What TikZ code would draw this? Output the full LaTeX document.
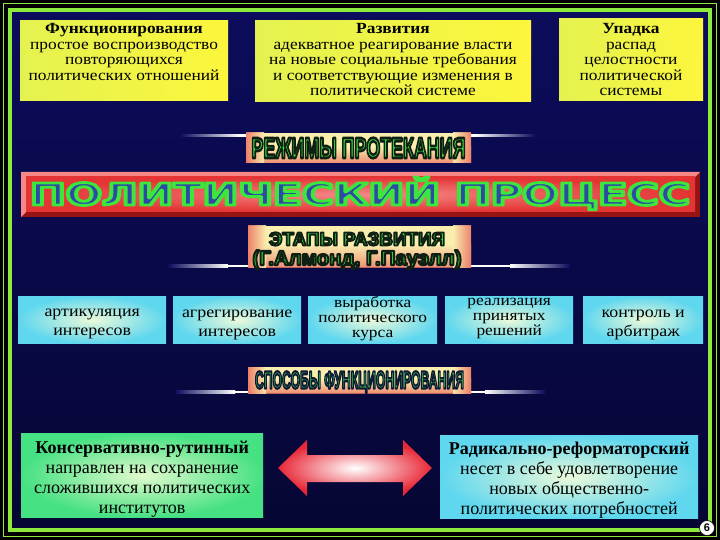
\documentclass[tikz,border=0pt]{standalone}
\usepackage{fontspec}
\setmainfont{Liberation Serif}
\newfontfamily\topfont[FakeStretch=1.12]{Liberation Serif}
\newfontfamily\banfont{Liberation Sans}
\newfontfamily\titlefont{DejaVu Sans}
\usetikzlibrary{shapes.geometric}
\definecolor{navy}{RGB}{12,12,92}
\definecolor{navydk}{RGB}{6,6,52}
\definecolor{lime}{RGB}{140,235,60}
\definecolor{yA}{RGB}{228,242,80}
\definecolor{yB}{RGB}{252,246,60}
\definecolor{cyIn}{RGB}{236,250,218}
\definecolor{cyOut}{RGB}{95,215,238}
\definecolor{grIn}{RGB}{225,250,205}
\definecolor{grOut}{RGB}{70,225,130}
\definecolor{bnIn}{RGB}{250,238,175}
\definecolor{bnOut}{RGB}{236,120,100}
\definecolor{rdFace}{RGB}{228,52,52}
\definecolor{rdLight}{RGB}{245,135,135}
\definecolor{rdDark}{RGB}{150,20,20}
\definecolor{bgreen}{RGB}{55,200,60}
\definecolor{tgreen}{RGB}{60,230,60}
\definecolor{tblue}{RGB}{45,75,165}
\definecolor{arRed}{RGB}{232,40,55}
\newcommand\fitcaps[4]{\resizebox{#1}{#2}{#3\vphantom{П}\smash{#4}}}
% text drawn filled and stroked (text render mode 2)
\newcommand\outl[4]{{\color{#1}\special{pdf:literal direct #2 RG #3 w 1 j 2 Tr}#4\special{pdf:literal direct 0 Tr}}}
\tikzset{
  ybox/.style={anchor=north west, inner sep=0pt, left color=yA, right color=yB},
  cbox/.style={anchor=north west, inner sep=0pt, inner color=cyIn, outer color=cyOut},
  gbox/.style={anchor=north west, inner sep=0pt, inner color=grIn, outer color=grOut},
  toptxt/.style={align=center, inner sep=0pt, font=\topfont\fontsize{15.5}{15.5}\selectfont},
  midtxt/.style={align=center, inner sep=0pt, font=\topfont\fontsize{16}{19}\selectfont},
  midtxtt/.style={align=center, inner sep=0pt, font=\topfont\fontsize{15.5}{14.8}\selectfont},
  bottxt/.style={align=center, inner sep=0pt, font=\fontsize{18}{20}\selectfont},
}
\newcommand\banner[5]{% name, x, y, w, h
  \fill[bnIn] (#2,#3) rectangle ++(#4,#5);
  \shade[top color=bnIn, bottom color=bnOut, opacity=0.8] (#2,#3+#5*0.45) rectangle ++(#4,#5*0.55);
  \shade[left color=bnOut, right color=bnIn, opacity=0.9] (#2,#3) rectangle ++(18,#5);
  \shade[left color=bnIn, right color=bnOut, opacity=0.9] (#2+#4-18,#3) rectangle ++(18,#5);
  \coordinate (#1) at (#2+#4/2,#3+#5/2);
}
\newcommand\glow[3]{% x1, x2, y
  \shade[left color=navy, right color=white] (#1,#3-1.2) rectangle (#1+60,#3+1.2);
  \fill[white] (#1+60,#3-1.2) rectangle (#2-60,#3+1.2);
  \shade[left color=white, right color=navy] (#2-60,#3-1.2) rectangle (#2,#3+1.2);
}
\begin{document}
\begin{tikzpicture}[x=1pt,y=-1pt]
\useasboundingbox (0,0) rectangle (720,540);
\fill[black] (0,0) rectangle (720,540);
\draw[lime, line width=1pt] (3.5,3.5) rectangle (716.5,536.5);
\shade[top color=navy, bottom color=navydk] (10,10) rectangle (710,530);
\draw[lime, line width=4.5pt] (10,10) rectangle (710,530);

% top boxes
\node[ybox, minimum width=208pt, minimum height=80pt] (f1) at (20,20) {};
\node[ybox, minimum width=276pt, minimum height=81pt] (f2) at (255,20) {};
\node[ybox, minimum width=144pt, minimum height=82pt] (f3) at (559,18) {};
\node[toptxt] (t1) at (124,52) {\textbf{Функционирования}\\простое воспроизводство\\повторяющихся\\политических отношений};
\node[toptxt] (t2) at (393,60) {\textbf{Развития}\\адекватное реагирование власти\\на новые социальные требования\\и соответствующие изменения в\\политической системе};
\node[toptxt] (t3) at (631,60) {\textbf{Упадка}\\распад\\целостности\\политической\\системы};

% glow lines
\glow{180}{535}{135.5}
\glow{168}{570}{266}
\glow{175}{545}{392}

% banner 1
\banner{b1}{246}{133}{225}{30}
\node (b1t) at (b1) {\fitcaps{214pt}{20pt}{\banfont\bfseries}{\outl{tgreen}{0.06 0.12 0.08}{0.9}{РЕЖИМЫ ПРОТЕКАНИЯ}}};

% main title
\fill[rdDark] (21,172) rectangle (700,217);
\fill[rdLight] (21,172) -- (700,172) -- (695,177) -- (26,177) -- (26,212) -- (21,217) -- cycle;
\shade[inner color=rdLight, outer color=rdFace] (26,177) rectangle (695,212);
\node (pp) at (360,194) {\fitcaps{660pt}{22pt}{\titlefont\bfseries}{\outl{tblue}{0.24 0.9 0.24}{0.95}{ПОЛИТИЧЕСКИЙ ПРОЦЕСС}}};

% banner 2
\banner{b2}{248}{226}{223}{41}
\node (b2a) at (357,239) {\fitcaps{176pt}{13pt}{\banfont\bfseries}{\outl{tgreen}{0.06 0.12 0.08}{1.0}{ЭТАПЫ РАЗВИТИЯ}}};
\node (b2b) at (357,258) {\fitcaps{209pt}{14pt}{\banfont\bfseries}{\outl{tgreen}{0.06 0.12 0.08}{1.0}{(Г.Алмонд, Г.Пауэлл)}}};

% middle boxes
\node[cbox, minimum width=148pt, minimum height=47pt] (m1) at (18,296) {};
\node[cbox, minimum width=128pt, minimum height=47pt] (m2) at (173,296) {};
\node[cbox, minimum width=129pt, minimum height=47pt] (m3) at (308,296) {};
\node[cbox, minimum width=128pt, minimum height=47pt] (m4) at (445,296) {};
\node[cbox, minimum width=120pt, minimum height=47pt] (m5) at (583,296) {};
\node[midtxt] at ([yshift=-4pt]m1.center) {артикуляция\\интересов};
\node[midtxt] at ([yshift=-5pt]m2.center) {агрегирование\\интересов};
\node[midtxtt] at ([yshift=1pt]m3.center) {выработка\\политического\\курса};
\node[midtxtt] at ([yshift=1pt]m4.center) {реализация\\принятых\\решений};
\node[midtxt] at ([yshift=-5pt]m5.center) {контроль и\\арбитраж};

% banner 3
\banner{b3}{248}{367}{223}{26}
\node (b3t) at (b3) {\fitcaps{209pt}{17pt}{\banfont\bfseries}{\outl{bgreen}{0.06 0.1 0.22}{0.9}{СПОСОБЫ ФУНКЦИОНИРОВАНИЯ}}};

% bottom boxes
\node[gbox, minimum width=242pt, minimum height=84pt] (c1) at (21,433) {};
\node[cbox, minimum width=258pt, minimum height=83pt] (c2) at (440,435) {};
\node[bottxt] at ([yshift=-4pt]c1.center) {\textbf{Консервативно-рутинный}\\направлен на сохранение\\сложившихся политических\\институтов};
\node[bottxt] at ([yshift=-3pt]c2.center) {\textbf{Радикально-реформаторский}\\несет в себе удовлетворение\\новых общественно-\\политических потребностей};

% double arrow
\shade[inner color=white, outer color=arRed] (278,468) -- (307,440) -- (307,455) -- (403,455) -- (403,440) -- (432,468) -- (403,496) -- (403,482) -- (307,482) -- (307,496) -- cycle;

% page number
\node[circle, fill=white, draw=black, line width=0.6pt, inner sep=0.5pt, minimum size=15pt, font=\banfont\bfseries\fontsize{11}{11}\selectfont] (pg) at (707,528) {6};
\end{tikzpicture}
\end{document}
